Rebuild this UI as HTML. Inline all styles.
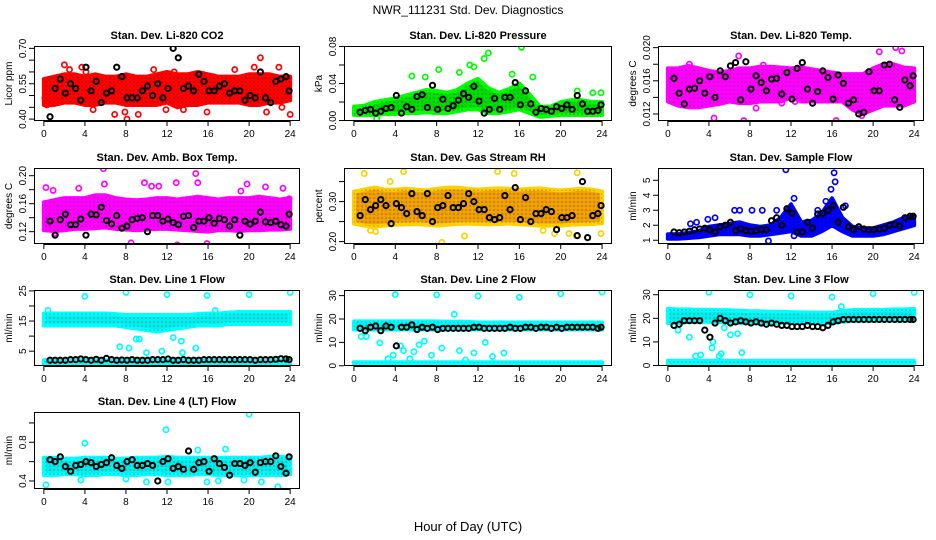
<!DOCTYPE html>
<html><head><meta charset="utf-8"><style>
html,body{margin:0;padding:0;background:#fff;}
svg{display:block;font-family:"Liberation Sans",sans-serif;}
</style></head><body>
<svg id="chart" width="936" height="540" viewBox="0 0 936 540" xmlns="http://www.w3.org/2000/svg">
<defs>
<pattern id="pat" width="4" height="4" patternUnits="userSpaceOnUse"><circle cx="2" cy="2" r="0.8" fill="#000" fill-opacity="0.35"/></pattern>
</defs>
<text x="468" y="14" text-anchor="middle" font-size="12">NWR_111231  Std. Dev. Diagnostics</text>
<text x="468" y="531" text-anchor="middle" font-size="13">Hour of Day (UTC)</text>
<g id="panels"></g>
</svg>
<script>
// shared hours
const bandHours = [0,1,2,3,4,5,6,7,8,9,10,11,12,13,14,15,16,17,18,19,20,21,22,23,24];
const blackHours = [0.6,1.1,1.6,2.1,2.6,3.1,3.6,4.1,4.6,5.1,5.6,6.1,6.6,7.1,7.6,8.1,8.6,9.1,9.6,10.1,10.6,11.1,11.6,12.1,12.6,13.1,13.6,14.1,14.6,15.1,15.6,16.1,16.6,17.1,17.6,18.1,18.6,19.1,19.6,20.1,20.6,21.1,21.6,22.1,22.6,23.1,23.6,23.9];
const xTicks = [0,4,8,12,16,20,24];

// CO2
const co2Lo = [0.46,0.46,0.47,0.47,0.46,0.46,0.47,0.47,0.46,0.46,0.46,0.46,0.47,0.45,0.46,0.46,0.47,0.47,0.47,0.47,0.46,0.46,0.47,0.47,0.48];
const co2Hi = [0.57,0.58,0.59,0.59,0.58,0.59,0.58,0.58,0.59,0.58,0.58,0.59,0.60,0.59,0.59,0.60,0.59,0.58,0.58,0.58,0.59,0.59,0.59,0.58,0.58];
const co2OutX = [0.1,0.3,2.5,3.7,4.1,4.8,6.9,7.9,8.1,10.7,11.9,12.7,13.6,15.9,16.5,18.6,20.5,21.1,21.7,22.9,23.2,24.0,2.0,9.2];
const co2OutY = [0.49,0.46,0.61,0.62,0.60,0.44,0.42,0.43,0.40,0.61,0.44,0.60,0.44,0.43,0.58,0.61,0.62,0.66,0.43,0.62,0.45,0.42,0.63,0.42];
const co2Black = [0.41,0.53,0.57,0.51,0.55,0.53,0.48,0.62,0.52,0.56,0.47,0.51,0.52,0.62,0.58,0.49,0.49,0.49,0.52,0.54,0.50,0.55,0.49,0.53,0.70,0.66,0.53,0.54,0.52,0.59,0.56,0.52,0.52,0.54,0.55,0.51,0.52,0.52,0.48,0.50,0.49,0.60,0.49,0.47,0.56,0.57,0.58,0.52];
// Pressure
const presLo = [0.006,0.006,0.006,0.007,0.007,0.008,0.008,0.009,0.008,0.008,0.010,0.012,0.012,0.008,0.008,0.010,0.012,0.008,0.004,0.005,0.006,0.006,0.006,0.006,0.006];
const presHi = [0.015,0.016,0.020,0.022,0.024,0.027,0.030,0.033,0.032,0.030,0.033,0.040,0.045,0.035,0.030,0.034,0.040,0.028,0.015,0.015,0.020,0.022,0.022,0.020,0.020];
const presOutX = [5.6,6.9,8.2,10.2,11.2,11.6,12.6,13.0,15.3,16.2,17.3,21.6,23.1,23.9,2.2];
const presOutY = [0.048,0.047,0.055,0.052,0.060,0.058,0.067,0.073,0.050,0.079,0.047,0.032,0.030,0.030,0.002];
const presBlack = [0.009,0.011,0.012,0.008,0.010,0.013,0.014,0.027,0.008,0.015,0.012,0.026,0.028,0.014,0.038,0.012,0.023,0.013,0.016,0.022,0.029,0.025,0.037,0.021,0.008,0.012,0.024,0.012,0.025,0.025,0.041,0.017,0.032,0.018,0.009,0.013,0.012,0.010,0.015,0.013,0.017,0.012,0.027,0.018,0.010,0.010,0.011,0.017];
// Li-820 Temp
const tempLo = [0.0135,0.0130,0.0128,0.0128,0.0130,0.0132,0.0135,0.0133,0.0133,0.0135,0.0135,0.0135,0.0140,0.0135,0.0135,0.0135,0.0135,0.0135,0.0125,0.0120,0.0125,0.0130,0.0130,0.0130,0.0135];
const tempHi = [0.0175,0.0175,0.0178,0.0175,0.0172,0.0170,0.0172,0.0175,0.0175,0.0177,0.0177,0.0176,0.0175,0.0176,0.0174,0.0172,0.0170,0.0168,0.0168,0.0168,0.0175,0.0180,0.0180,0.0176,0.0175];
const tempOutX = [4.5,7.4,6.9,9.3,11.1,12.4,14.4,16.4,18.9,20.6,22.2,22.8,2.1,8.6];
const tempOutY = [0.0115,0.0112,0.0190,0.0179,0.0133,0.0135,0.0137,0.0112,0.0118,0.0195,0.0200,0.0196,0.0180,0.0127];
const tempBlack = [0.0163,0.0145,0.0132,0.0150,0.0151,0.0160,0.0145,0.0165,0.0140,0.0172,0.0165,0.0178,0.0182,0.0137,0.0183,0.0150,0.0166,0.0158,0.0148,0.0162,0.0163,0.0144,0.0170,0.0138,0.0175,0.0182,0.0150,0.0133,0.0147,0.0172,0.0164,0.0138,0.0167,0.0157,0.0133,0.0137,0.0120,0.0122,0.0171,0.0148,0.0148,0.0179,0.0180,0.0137,0.0128,0.0161,0.0154,0.0166];
// Amb box temp
const ambLo = [0.122,0.121,0.122,0.124,0.124,0.125,0.126,0.124,0.123,0.122,0.123,0.124,0.124,0.123,0.122,0.121,0.120,0.122,0.122,0.121,0.122,0.122,0.123,0.123,0.124];
const ambHi = [0.162,0.165,0.168,0.168,0.168,0.172,0.172,0.168,0.166,0.165,0.166,0.168,0.168,0.166,0.168,0.170,0.168,0.166,0.168,0.168,0.168,0.170,0.168,0.166,0.168];
const ambOutX = [0.2,0.9,3.4,5.8,5.9,9.8,10.5,11.2,12.9,13.0,14.8,15.0,15.9,19.2,19.8,21.6,23.3,23.9,8.5,1.1];
const ambOutY = [0.183,0.179,0.182,0.210,0.188,0.190,0.185,0.185,0.190,0.101,0.203,0.190,0.103,0.178,0.188,0.184,0.182,0.167,0.104,0.118];
const ambBlack = [0.135,0.115,0.137,0.145,0.130,0.130,0.138,0.115,0.145,0.144,0.155,0.136,0.131,0.143,0.125,0.128,0.137,0.139,0.140,0.120,0.143,0.143,0.135,0.138,0.133,0.130,0.142,0.143,0.126,0.135,0.135,0.140,0.132,0.139,0.137,0.128,0.137,0.115,0.135,0.131,0.135,0.148,0.134,0.133,0.135,0.130,0.128,0.145];
// Gas stream RH
const rhLo = [0.245,0.240,0.238,0.240,0.242,0.243,0.244,0.242,0.240,0.242,0.244,0.245,0.244,0.243,0.244,0.245,0.243,0.242,0.240,0.240,0.240,0.242,0.243,0.244,0.246];
const rhHi = [0.325,0.330,0.335,0.330,0.330,0.332,0.330,0.328,0.332,0.335,0.335,0.332,0.330,0.332,0.333,0.332,0.330,0.332,0.333,0.330,0.328,0.330,0.332,0.330,0.325];
const rhOutX = [1.0,2.1,4.8,3.5,8.5,10.7,13.9,15.5,21.6,21.5,23.9,1.6,18.3,19.4,20.8];
const rhOutY = [0.37,0.225,0.375,0.350,0.198,0.214,0.375,0.370,0.372,0.215,0.220,0.228,0.228,0.220,0.220];
const rhBlack = [0.265,0.305,0.28,0.29,0.305,0.29,0.245,0.295,0.285,0.27,0.32,0.275,0.265,0.32,0.25,0.285,0.29,0.315,0.285,0.285,0.295,0.32,0.30,0.28,0.28,0.26,0.255,0.26,0.315,0.28,0.335,0.255,0.31,0.25,0.27,0.27,0.28,0.275,0.23,0.26,0.26,0.265,0.215,0.35,0.21,0.265,0.27,0.29];
// Sample flow
const sfLo = [1.1,1.1,1.15,1.2,1.3,1.4,1.4,1.4,1.3,1.3,1.4,1.5,1.6,1.3,1.3,1.6,2.0,1.6,1.3,1.3,1.3,1.4,1.6,1.8,2.0];
const sfHi = [1.4,1.4,1.5,1.6,1.9,2.0,2.1,2.2,2.0,1.9,2.0,2.5,3.4,2.2,2.3,2.8,3.8,2.5,1.9,1.8,1.8,2.0,2.2,2.5,2.6];
const sfOutX = [2.2,2.8,3.9,4.6,6.5,7.0,8.2,9.2,10.6,11.5,12.3,12.3,14.6,15.4,15.9,16.2,16.3,17.3,9.8];
const sfOutY = [2.1,2.2,2.4,2.5,3.0,3.0,3.0,3.0,3.0,5.7,3.8,1.3,3.0,3.6,4.4,5.5,4.9,3.3,0.95];
const sfBlack = [1.55,1.50,1.55,1.60,1.70,1.75,1.80,1.70,1.55,1.90,2.00,2.20,1.65,1.75,1.65,1.60,1.65,1.70,1.70,2.30,2.50,2.00,3.10,2.80,1.55,1.55,2.20,1.80,2.75,2.80,3.00,3.30,2.20,3.20,1.90,1.70,1.90,1.75,1.70,1.70,1.75,1.80,2.00,2.05,1.95,2.50,2.60,2.60];
// Line 1
const l1Lo = [13.5,13.5,13.5,13.5,13.5,13.5,13.5,13.5,13.0,12.5,12.0,11.5,12.0,12.5,13.0,13.5,13.5,13.5,14.0,14.0,14.0,14.0,14.0,14.0,14.0];
const l1Hi = [17.5,17.5,17.5,17.5,17.5,17.5,17.5,17.3,17.0,17.0,17.0,17.0,17.0,17.0,17.0,17.3,17.5,17.5,17.8,18.0,18.0,18.0,18.0,18.0,18.0];
const l1ZeroLo = [0.8,0.8,0.8,0.8,0.8,0.8,0.8,0.8,0.8,0.8,0.8,0.8,0.8,0.8,0.8,0.8,0.8,0.8,0.8,0.8,0.8,0.8,0.8,0.8,0.8];
const l1ZeroHi = [2.0,2.0,2.0,2.0,2.0,2.0,2.0,2.0,2.0,2.0,2.0,2.0,2.0,2.0,2.0,2.0,2.0,2.0,2.0,2.0,2.0,2.0,2.0,2.0,2.0];
const l1OutX = [0.4,4.0,8.0,12.0,15.9,20.0,24.0,7.4,8.3,9.0,9.3,10.0,11.5,12.6,13.4,13.5,14.8,16.7];
const l1OutY = [18.5,23.2,24.5,23.8,23.5,23.8,24.5,6.5,6.0,9.0,9.0,4.5,5.0,9.5,8.3,4.5,6.0,18.5];
const l1Black = [2.0,2.0,2.0,2.0,2.2,2.2,2.4,2.2,2.0,2.3,2.0,2.6,2.2,2.0,2.1,2.0,2.2,2.0,2.0,2.0,2.2,2.2,2.2,2.4,2.0,2.0,2.2,2.0,2.0,2.0,2.2,2.2,2.2,2.2,2.2,2.2,2.2,2.2,2.2,2.2,2.0,2.2,2.2,2.2,2.3,2.5,2.4,2.2];
// Line 2
const l2Lo = [15.5,15.5,15.5,15.5,15.5,15.5,15.5,15.5,15.5,15.5,15.5,15.5,15.5,15.5,15.5,15.5,15.5,15.5,15.5,15.5,15.5,15.5,15.5,15.5,15.5];
const l2Hi = [19.0,19.0,19.0,19.0,19.0,19.0,19.0,19.0,19.0,18.8,18.8,18.8,18.5,18.5,18.5,18.5,18.5,18.5,18.5,18.5,18.5,18.5,18.5,18.5,18.5];
const l2ZeroLo = [0,0,0,0,0,0,0,0,0,0,0,0,0,0,0,0,0,0,0,0,0,0,0,0,0];
const l2ZeroHi = [1.5,1.5,1.5,1.5,1.5,1.5,1.5,1.5,1.5,1.5,1.5,1.5,1.5,1.5,1.5,1.5,1.5,1.5,1.5,1.5,1.5,1.5,1.5,1.5,1.5];
const l2OutX = [4.0,8.0,12.0,16.0,20.0,24.0,0.7,1.2,2.5,3.8,3.3,4.5,4.8,5.4,5.8,6.3,6.8,7.5,8.5,9.7,10.2,10.8,11.6,12.7,13.4,14.5];
const l2OutY = [30.5,30.3,29.8,29.3,30.8,31.5,12.5,12.5,9.8,4.5,3.0,8.5,6.5,3.0,6.0,9.0,10.5,4.5,7.5,22.0,6.5,2.5,5.5,10.0,4.0,5.5];
const l2Black = [16,15,16.5,17,15,17,16.5,8.5,16.5,16.5,17.5,15.5,16.5,16,16.5,15.5,16,16,16,16,16,16,16.5,16.5,16,16,16,16,16,16.5,16,16,16.5,16.5,16,16.5,16.5,16,16.5,16,16.5,16.5,16.5,16.5,16.5,16.5,16,16.5];
// Line 3
const l3Lo = [18.0,18.0,18.5,18.5,18.5,18.5,18.0,18.0,18.0,18.0,18.0,18.0,18.0,18.0,18.0,18.0,18.0,18.5,19.0,19.0,19.0,19.0,19.0,19.0,19.0];
const l3Hi = [24.0,23.8,23.8,23.6,23.6,23.5,23.4,23.2,23.0,23.0,22.8,22.8,22.6,22.5,22.4,22.4,22.4,23.0,23.5,23.5,23.6,23.6,23.8,23.8,24.0];
const l3ZeroLo = [0.5,0.5,0.5,0.5,0.5,0.5,0.5,0.5,0.5,0.5,0.5,0.5,0.5,0.5,0.5,0.5,0.5,0.5,0.5,0.5,0.5,0.5,0.5,0.5,0.5];
const l3ZeroHi = [2.0,2.0,2.0,2.0,2.0,2.0,2.0,2.0,2.0,2.0,2.0,2.0,2.0,2.0,2.0,2.0,2.0,2.0,2.0,2.0,2.0,2.0,2.0,2.0,2.0];
const l3OutX = [4.0,8.0,12.0,16.0,20.0,24.0,1.0,2.1,2.7,3.2,4.3,4.4,5.0,5.2,5.5,6.1,6.8,7.2,16.9];
const l3OutY = [31.0,30.0,29.5,29.0,30.5,31.0,15.0,12.0,4.0,4.5,7.5,10.0,4.0,5.0,16.0,13.0,13.5,5.5,25.0];
const l3Black = [17,17.5,19,19,19,19,15,12,18,20,19,18,18.5,19,18.5,18,18.5,18,17.5,18,17.5,17,17,16.5,16.5,16.5,17,16.5,16.5,16,17,18.5,19,19.5,19.5,19.5,19.5,19.5,19.5,19.5,19.5,19.5,19.5,19.5,19.5,19.5,19.5,19.5];
// Line 4
const l4Lo = [0.46,0.46,0.47,0.47,0.46,0.46,0.47,0.47,0.46,0.46,0.47,0.47,0.46,0.46,0.46,0.47,0.47,0.46,0.46,0.46,0.46,0.46,0.46,0.46,0.47];
const l4Hi = [0.64,0.64,0.63,0.63,0.64,0.64,0.64,0.63,0.63,0.64,0.64,0.64,0.65,0.64,0.64,0.64,0.64,0.64,0.64,0.64,0.64,0.64,0.65,0.65,0.64];
const l4OutX = [0.2,4.0,11.9,20.0,22.8,3.6,10.0,12.1,15.9,17.0,17.7,19.5,21.2,8.0,15.0];
const l4OutY = [0.36,0.79,0.93,1.09,0.34,0.41,0.39,0.39,0.39,0.40,0.73,0.41,0.39,0.42,0.72];
const l4Black = [0.62,0.60,0.65,0.55,0.50,0.56,0.57,0.60,0.59,0.55,0.57,0.59,0.64,0.56,0.53,0.60,0.62,0.56,0.56,0.58,0.56,0.40,0.60,0.63,0.53,0.55,0.52,0.71,0.52,0.59,0.60,0.50,0.63,0.58,0.54,0.46,0.58,0.58,0.56,0.59,0.49,0.59,0.60,0.60,0.66,0.55,0.48,0.65];

const NS = 'http://www.w3.org/2000/svg';
const root = document.getElementById('panels');
function mk(tag, parent){ const e = document.createElementNS(NS, tag); parent.appendChild(e); return e; }

const panels = [
 {key:'co2', title:'Stan. Dev. Li-820 CO2', ylab:'Licor ppm', box:[34,46,300,121], ylim:[0.392,0.71], ticks:[0.40,0.45,0.50,0.55,0.60,0.65,0.70], labels:['0.40','0.55','0.70'], color:'#ff0000', ring:'#ff0000', bands:[[co2Lo,co2Hi]], ox:co2OutX, oy:co2OutY, black:co2Black},
 {key:'pressure', title:'Stan. Dev. Li-820 Pressure', ylab:'kPa', box:[344,46,612,121], ylim:[-0.0005,0.0805], ticks:[0,0.02,0.04,0.06,0.08], labels:['0.00','0.04','0.08'], color:'#00dd00', ring:'#00ff00', bands:[[presLo,presHi]], ox:presOutX, oy:presOutY, black:presBlack},
 {key:'li820-temp', title:'Stan. Dev. Li-820 Temp.', ylab:'degrees C', box:[658,46,924,121], ylim:[0.01115,0.0202], ticks:[0.012,0.014,0.016,0.018,0.020], labels:['0.012','0.016','0.020'], color:'#ff00ff', ring:'#ff00ff', bands:[[tempLo,tempHi]], ox:tempOutX, oy:tempOutY, black:tempBlack},
 {key:'amb-box-temp', title:'Stan. Dev. Amb. Box Temp.', ylab:'degrees C', box:[34,168,300,244], ylim:[0.1024,0.211], ticks:[0.12,0.14,0.16,0.18,0.20], labels:['0.12','0.16','0.20'], color:'#ff00ff', ring:'#ff00ff', bands:[[ambLo,ambHi]], ox:ambOutX, oy:ambOutY, black:ambBlack},
 {key:'gas-rh', title:'Stan. Dev. Gas Stream RH', ylab:'percent', box:[344,168,612,244], ylim:[0.194,0.384], ticks:[0.20,0.25,0.30,0.35], labels:['0.20','0.30'], color:'#f0a000', ring:'#ffd000', bands:[[rhLo,rhHi]], ox:rhOutX, oy:rhOutY, black:rhBlack},
 {key:'sample-flow', title:'Stan. Dev. Sample Flow', ylab:'ml/min', box:[658,168,924,244], ylim:[0.75,5.82], ticks:[1,2,3,4,5], labels:['1','2','3','4','5'], color:'#0000ff', ring:'#0000ff', bands:[[sfLo,sfHi]], ox:sfOutX, oy:sfOutY, black:sfBlack},
 {key:'line1', title:'Stan. Dev. Line 1 Flow', ylab:'ml/min', box:[34,290,300,366], ylim:[0.08,25.3], ticks:[5,10,15,20,25], labels:['5','15','25'], color:'#00eeee', ring:'#00ffff', bands:[[l1Lo,l1Hi],[l1ZeroLo,l1ZeroHi]], ox:l1OutX, oy:l1OutY, black:l1Black},
 {key:'line2', title:'Stan. Dev. Line 2 Flow', ylab:'ml/min', box:[344,290,612,366], ylim:[-0.1,32.4], ticks:[0,10,20,30], labels:['0','10','20','30'], color:'#00eeee', ring:'#00ffff', bands:[[l2Lo,l2Hi],[l2ZeroLo,l2ZeroHi]], ox:l2OutX, oy:l2OutY, black:l2Black},
 {key:'line3', title:'Stan. Dev. Line 3 Flow', ylab:'ml/min', box:[658,290,924,366], ylim:[-0.2,32.0], ticks:[0,10,20,30], labels:['0','10','20','30'], color:'#00eeee', ring:'#00ffff', bands:[[l3Lo,l3Hi],[l3ZeroLo,l3ZeroHi]], ox:l3OutX, oy:l3OutY, black:l3Black},
 {key:'line4', title:'Stan. Dev. Line 4 (LT) Flow', ylab:'ml/min', box:[34,412,300,489], ylim:[0.317,1.113], ticks:[0.4,0.6,0.8,1.0], labels:['0.4','0.8'], color:'#00eeee', ring:'#00ffff', bands:[[l4Lo,l4Hi]], ox:l4OutX, oy:l4OutY, black:l4Black}
];

panels.forEach(p => {
  const [x0,y0,x1,y1] = p.box;
  const xs = h => x0 + (h + 0.96) / 25.92 * (x1 - x0);
  const ys = v => y1 - (v - p.ylim[0]) / (p.ylim[1] - p.ylim[0]) * (y1 - y0);
  const g = mk('g', root);
  
  
  const clipId = 'clip-' + p.key;
  const cp = mk('clipPath', g); cp.setAttribute('id', clipId);
  const cr = mk('rect', cp); cr.setAttribute('x', x0); cr.setAttribute('y', y0); cr.setAttribute('width', x1 - x0); cr.setAttribute('height', y1 - y0);
  const plot = mk('g', g); plot.setAttribute('clip-path', 'url(#' + clipId + ')');
  p.bands.forEach((b, bi) => {
    const [lo, hi] = b;
    let pts = bandHours.map((h, i) => xs(h) + ',' + ys(hi[i]));
    pts = pts.concat(bandHours.slice().reverse().map((h, j) => { const i = bandHours.length - 1 - j; return xs(h) + ',' + ys(lo[i]); }));
    const poly = mk('polygon', plot);
    
    
    poly.setAttribute('points', pts.join(' '));
    poly.setAttribute('fill', p.color);
    poly.setAttribute('stroke', p.ring);
    poly.setAttribute('stroke-width', '4');
    poly.setAttribute('stroke-linejoin', 'round');
    const ov = mk('polygon', plot);
    ov.setAttribute('points', pts.join(' '));
    ov.setAttribute('fill', 'url(#pat)');
  });
  p.ox.forEach((h, i) => {
    const c = mk('circle', plot);
    
    
    c.setAttribute('cx', xs(h)); c.setAttribute('cy', ys(p.oy[i])); c.setAttribute('r', 2.6);
    c.setAttribute('fill', 'none'); c.setAttribute('stroke', p.ring); c.setAttribute('stroke-width', 1.7);
  });
  p.black.forEach((v, i) => {
    const c = mk('circle', plot);
    
    
    c.setAttribute('cx', xs(blackHours[i])); c.setAttribute('cy', ys(v)); c.setAttribute('r', 2.6);
    c.setAttribute('fill', 'none'); c.setAttribute('stroke', '#000'); c.setAttribute('stroke-width', 2);
  });
  const r = mk('rect', g);
  
  
  r.setAttribute('x', x0 + 0.5); r.setAttribute('y', y0 + 0.5); r.setAttribute('width', x1 - x0 - 1); r.setAttribute('height', y1 - y0 - 1);
  r.setAttribute('fill', 'none'); r.setAttribute('stroke', '#000'); r.setAttribute('stroke-width', 1);
  const t = mk('text', g);
  
  
  t.setAttribute('x', (x0 + x1) / 2); t.setAttribute('y', y0 - 7);
  t.setAttribute('text-anchor', 'middle'); t.setAttribute('font-size', '11'); t.setAttribute('font-weight', 'bold');
  t.textContent = p.title;
  const xl = mk('line', g);
  xl.setAttribute('x1', xs(0)); xl.setAttribute('x2', xs(24)); xl.setAttribute('y1', y1 + 0.5); xl.setAttribute('y2', y1 + 0.5); xl.setAttribute('stroke', '#000');
  xTicks.forEach(h => {
    const tk = mk('line', g);
    tk.setAttribute('x1', xs(h)); tk.setAttribute('x2', xs(h)); tk.setAttribute('y1', y1); tk.setAttribute('y2', y1 + 5); tk.setAttribute('stroke', '#000');
    const tl = mk('text', g);
    
    
    tl.setAttribute('x', xs(h)); tl.setAttribute('y', y1 + 16); tl.setAttribute('text-anchor', 'middle'); tl.setAttribute('font-size', '10');
    tl.textContent = h;
  });
  p.ticks.forEach(v => {
    const tk = mk('line', g);
    tk.setAttribute('x1', x0 - 5); tk.setAttribute('x2', x0); tk.setAttribute('y1', ys(v)); tk.setAttribute('y2', ys(v)); tk.setAttribute('stroke', '#000');
  });
  p.labels.forEach(s => {
    const v = parseFloat(s);
    const tl = mk('text', g);
    
    
    tl.setAttribute('transform', 'translate(' + (x0 - 8) + ',' + ys(v) + ') rotate(-90)');
    tl.setAttribute('text-anchor', 'middle'); tl.setAttribute('font-size', '10');
    tl.textContent = s;
  });
  const yl = mk('text', g);
  
  
  yl.setAttribute('transform', 'translate(' + (x0 - 22) + ',' + ((y0 + y1) / 2) + ') rotate(-90)');
  yl.setAttribute('text-anchor', 'middle'); yl.setAttribute('font-size', '10');
  yl.textContent = p.ylab;
});
</script>
</body></html>
